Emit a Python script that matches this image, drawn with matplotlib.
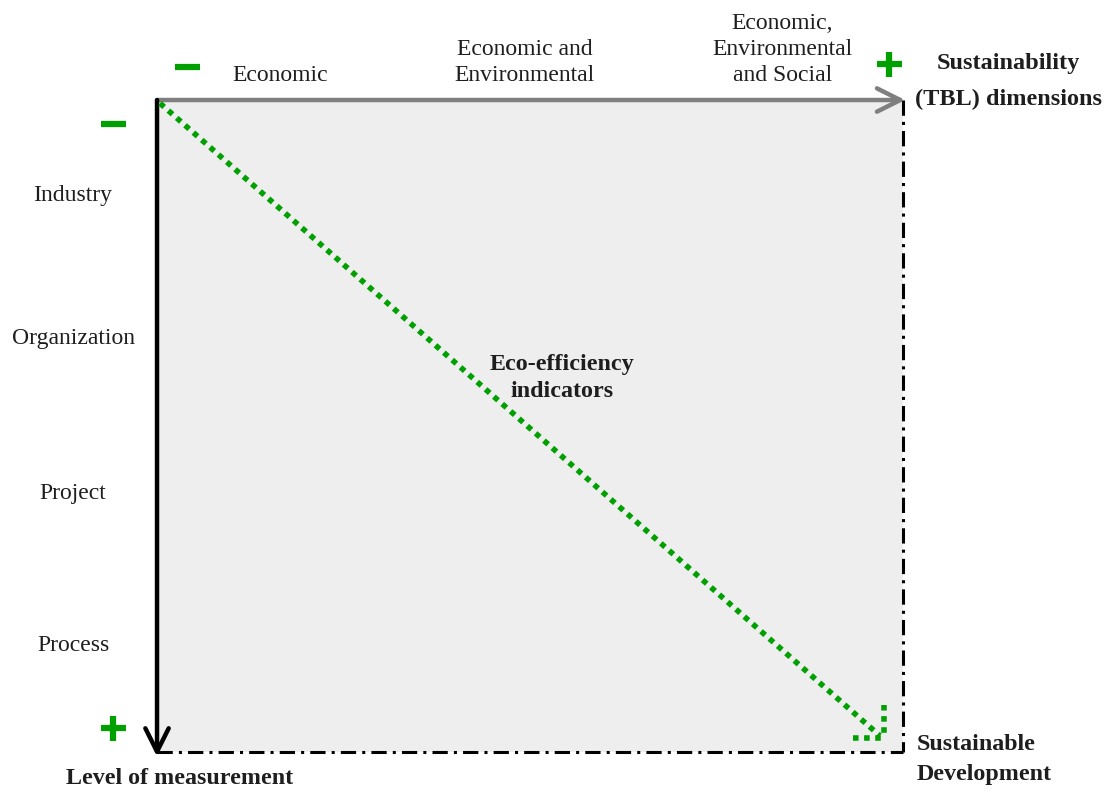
import matplotlib.pyplot as plt
from matplotlib.patches import Rectangle

# categories along the two axes of the framework
dimension_labels = ["Economic", "Economic and\nEnvironmental", "Economic,\nEnvironmental\nand Social"]
level_labels = ["Industry", "Organization", "Project", "Process"]
diagonal_label = "Eco-efficiency\nindicators"
x_axis_title = "Sustainability\n(TBL) dimensions"
y_axis_title = "Level of measurement"
corner_label = "Sustainable\nDevelopment"

# layout (box is the unit square, y grows downward)
dim_x = [0.165, 0.493, 0.838]
level_y = [0.146, 0.366, 0.604, 0.837]
GREEN = '#00a000'
FONT = 'Liberation Serif'
TXT = '#1e1e1e'

fig = plt.figure(figsize=(11.05, 7.92), dpi=100)
ax = fig.add_axes([0, 0, 1, 1])
ax.set_xlim(-0.2105, 1.2708)
ax.set_ylim(1.0613, -0.1534)
ax.axis('off')

# background box
ax.add_patch(Rectangle((0, 0), 1, 1, facecolor='#eeeeee', edgecolor='none', zorder=0))
ax.plot([1, 1], [0, 1], color='black', lw=2.2, dashes=(5, 2, 1, 2), zorder=1)
ax.plot([0, 1], [1, 1], color='black', lw=2.2, dashes=(5, 2, 1, 2), zorder=1)

# axes arrows
ax.annotate('', xy=(1.003, 0), xytext=(0, 0),
            arrowprops=dict(arrowstyle='->', color='#7f7f7f', lw=3.2, mutation_scale=42,
                            shrinkA=0, shrinkB=0), zorder=3)
ax.annotate('', xy=(0, 1.007), xytext=(0, 0),
            arrowprops=dict(arrowstyle='->', color='black', lw=3.2, mutation_scale=42,
                            shrinkA=0, shrinkB=0), zorder=3)

# dotted diagonal with its arrow head
ax.plot([0.004, 0.969], [0.005, 0.975], color=GREEN, lw=4, dashes=(1, 1), zorder=4)
ax.plot([0.975, 0.975], [0.928, 0.977], color=GREEN, lw=4, dashes=(1, 1), zorder=4)
ax.plot([0.933, 0.975], [0.979, 0.979], color=GREEN, lw=4, dashes=(1, 1), zorder=4)

# minus / plus signs
ax.plot([0.040, -0.059], [-0.0506, 0.037], ls='none', marker='_', ms=18, mew=4.5, color=GREEN)
ax.plot([0.981, -0.059], [-0.055, 0.963], ls='none', marker='+', ms=18, mew=4.5, color=GREEN)

for lab, x in zip(dimension_labels, dim_x):
    ax.text(x, -0.0215, lab, ha='center', va='bottom', multialignment='center',
            fontsize=17, family=FONT, color=TXT, linespacing=1.31)

for lab, y in zip(level_labels, level_y):
    ax.text(-0.1126, y, lab, ha='center', va='center', fontsize=17, family=FONT, color=TXT)

ax.text(1.1408, -0.029, x_axis_title, ha='center', va='center', fontsize=17.5, family=FONT,
        fontweight='bold', color=TXT, linespacing=1.91)
ax.text(0.0308, 1.0399, y_axis_title, ha='center', va='center', fontsize=17.3, family=FONT,
        fontweight='bold', color=TXT)
ax.text(1.0188, 1.0115, corner_label, ha='left', va='center', fontsize=17.3, family=FONT,
        fontweight='bold', color=TXT, linespacing=1.6)
ax.text(0.543, 0.427, diagonal_label, ha='center', va='center', fontsize=17.3, family=FONT,
        fontweight='bold', color=TXT, linespacing=1.38)

fig.savefig('out.png', dpi=100)
